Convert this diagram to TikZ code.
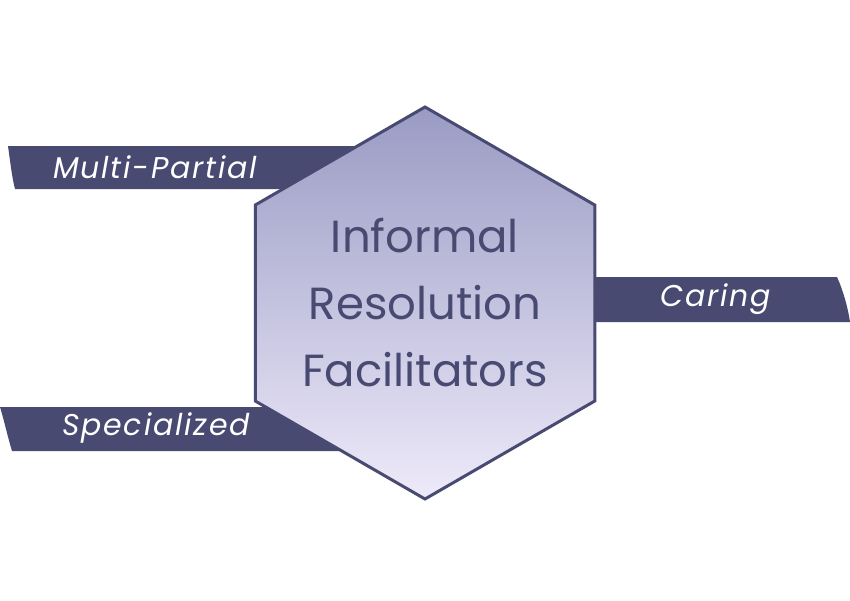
\documentclass[tikz,border=0pt]{standalone}
\usepackage{fontspec}
\setmainfont{Poppins}
\usetikzlibrary{shapes.geometric}
\definecolor{bannerblue}{HTML}{494A72}
\definecolor{hextop}{HTML}{9A9BC4}
\definecolor{hexbottom}{HTML}{EEEAFA}
\tikzset{
    banner/.style={fill=bannerblue, draw=none},
    tag/.style={text=white, inner sep=0pt,
        font=\fontsize{30}{36}\selectfont\itshape\addfontfeatures{LetterSpace=6}},
}
\begin{document}
\begin{tikzpicture}[x=1pt, y=-1pt]
    \useasboundingbox (0,0) rectangle (850,600);

    % ribbons behind the hexagon
    \path[banner] (8,146) -- (400,146) -- (400,189) -- (15,189)
        .. controls (12,178) and (10,160) .. cycle;
    \path[banner] (0,407) -- (400,407) -- (400,451) -- (12,451)
        .. controls (8,438) and (4,420) .. cycle;
    \path[banner] (560,277) -- (837,277) .. controls (843,290) and (848,308) .. (850,322)
        -- (560,322) -- cycle;

    \node[regular polygon, regular polygon sides=6, shape border rotate=30,
        minimum size=392, line width=3pt, draw=bannerblue,
        top color=hextop, bottom color=hexbottom, inner sep=0pt] (hex) at (425,303) {};
    \node[align=center, text=bannerblue, inner sep=0pt,
        font=\fontsize{45}{67}\selectfont] (title) at (hex.center)
        {Informal\\Resolution\\Facilitators};

    \node[tag] (multi) at (155,167) {Multi-Partial};
    \node[tag] (special) at (156,428) {Specialized};
    \node[tag] (caring) at (716,299) {Caring};
\end{tikzpicture}
\end{document}
